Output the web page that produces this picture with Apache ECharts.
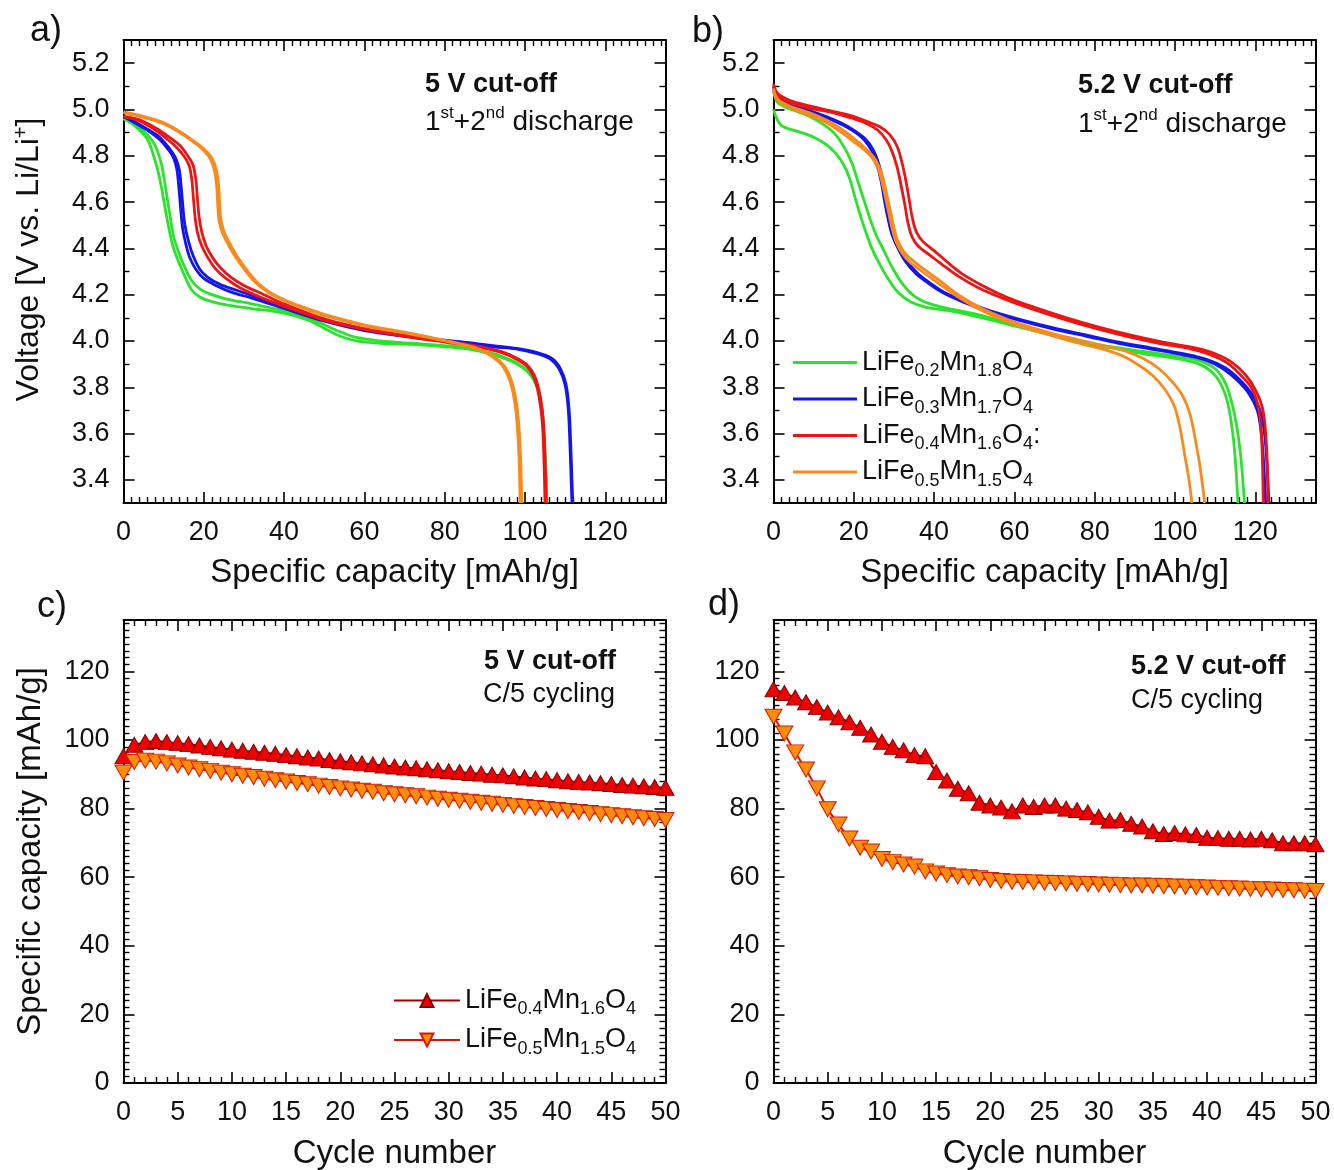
<!DOCTYPE html>
<html><head><meta charset="utf-8">
<script src="https://cdn.jsdelivr.net/npm/echarts@6/dist/echarts.min.js"></script>
<style>html,body{margin:0;padding:0;background:#fff}#c{width:1334px;height:1170px}</style>
</head><body><div id="c"></div>
<script>
const FONT = '"Liberation Sans", Arial, Helvetica, sans-serif';

// ---------- Panel a: 5 V cut-off, 1st + 2nd discharge [capacity mAh/g, voltage V] ----------
const a_fe02_1 = [[0,4.96],[2,4.94],[4,4.91],[6,4.87],[7.5,4.80],[8.5,4.74],[9.5,4.66],[10.5,4.56],[11.5,4.47],[12.5,4.40],[14,4.33],[15.5,4.27],[17,4.22],[19,4.19],[22,4.17],[26,4.155],[32,4.14],[40,4.12],[46,4.09],[50,4.055],[54,4.02],[58,4.0],[64,3.99],[72,3.985],[80,3.975],[86,3.965],[90,3.95],[94,3.93],[98,3.90],[101,3.86],[103,3.80],[104.2,3.70],[104.8,3.55],[105.2,3.40],[105.4,3.3]];
const a_fe02_2 = [[0,4.96],[2,4.945],[4,4.92],[6,4.89],[8,4.84],[9.5,4.76],[10.5,4.66],[11.5,4.55],[12.5,4.45],[14,4.37],[15.5,4.31],[17,4.26],[19,4.225],[22,4.2],[26,4.18],[32,4.16],[40,4.13],[46,4.10],[50,4.07],[54,4.04],[58,4.015],[64,4.0],[72,3.99],[80,3.98],[86,3.97],[90,3.955],[94,3.935],[98,3.905],[101,3.865],[103,3.81],[104.3,3.70],[104.9,3.55],[105.3,3.40],[105.5,3.3]];
const a_fe03_1 = [[0,4.97],[3,4.94],[6,4.91],[9,4.87],[11,4.83],[12.5,4.79],[13.3,4.74],[13.8,4.66],[14.2,4.58],[14.7,4.49],[15.5,4.42],[16.5,4.36],[18,4.31],[20,4.27],[23,4.24],[27,4.21],[32,4.185],[40,4.14],[50,4.085],[60,4.045],[70,4.02],[80,4.0],[86,3.99],[92,3.975],[98,3.965],[103,3.945],[106.5,3.92],[108.5,3.88],[110,3.81],[110.8,3.70],[111.2,3.55],[111.5,3.40],[111.7,3.3]];
const a_fe03_2 = [[0,4.97],[3,4.945],[6,4.915],[9,4.88],[11.5,4.83],[13,4.79],[13.9,4.74],[14.4,4.66],[14.8,4.58],[15.3,4.50],[16.2,4.43],[17.3,4.37],[19,4.31],[21,4.275],[24,4.245],[28,4.22],[33,4.19],[40,4.15],[50,4.09],[60,4.05],[70,4.022],[80,4.003],[86,3.993],[92,3.98],[98,3.968],[103,3.95],[106.7,3.925],[108.7,3.885],[110.2,3.815],[111,3.70],[111.4,3.55],[111.7,3.40],[111.9,3.3]];
const a_fe04_1 = [[0,4.97],[4,4.95],[8,4.91],[11,4.87],[13,4.84],[15,4.80],[16.3,4.76],[17,4.70],[17.4,4.62],[17.8,4.54],[18.4,4.47],[19.5,4.41],[21,4.36],[23,4.31],[25.5,4.27],[29,4.23],[34,4.19],[40,4.15],[50,4.09],[60,4.05],[70,4.02],[80,3.995],[88,3.975],[94,3.95],[98,3.92],[100.5,3.89],[102.3,3.84],[103.5,3.76],[104.3,3.65],[104.7,3.50],[105,3.3]];
const a_fe04_2 = [[0,4.97],[4,4.955],[8,4.92],[11,4.885],[14,4.845],[16,4.80],[17.3,4.76],[18,4.70],[18.4,4.62],[18.8,4.54],[19.5,4.47],[20.6,4.41],[22.2,4.36],[24.2,4.315],[26.8,4.275],[30,4.24],[35,4.20],[40,4.16],[50,4.095],[60,4.053],[70,4.025],[80,4.0],[88,3.978],[94,3.955],[98,3.925],[100.7,3.893],[102.5,3.845],[103.8,3.76],[104.6,3.65],[105,3.50],[105.3,3.3]];
const a_fe05_1 = [[0,4.985],[4,4.97],[8,4.95],[11,4.93],[14,4.90],[17,4.865],[19.5,4.83],[21.5,4.79],[22.6,4.74],[23.2,4.67],[23.5,4.58],[23.8,4.52],[24.6,4.47],[26,4.42],[28,4.36],[30.5,4.30],[33,4.25],[36,4.21],[40,4.175],[45,4.14],[50,4.11],[60,4.065],[70,4.035],[80,4.0],[85,3.98],[89,3.96],[92,3.93],[94.5,3.89],[96.2,3.83],[97.3,3.75],[98,3.65],[98.5,3.50],[98.8,3.3]];
const a_fe05_2 = [[0,4.99],[4,4.975],[8,4.955],[11,4.935],[14,4.905],[17,4.87],[20,4.83],[22,4.79],[23.1,4.74],[23.7,4.67],[24,4.58],[24.3,4.52],[25.1,4.47],[26.5,4.42],[28.5,4.36],[31,4.30],[33.5,4.25],[36.5,4.21],[40.5,4.175],[45,4.145],[50,4.115],[60,4.07],[70,4.038],[80,4.003],[85,3.983],[89,3.963],[92.3,3.933],[94.9,3.89],[96.6,3.83],[97.7,3.75],[98.4,3.65],[98.9,3.50],[99.2,3.3]];

// ---------- Panel b: 5.2 V cut-off ----------
const b_fe02_1 = [[0,5.0],[0.8,4.96],[2,4.93],[4,4.915],[7,4.90],[10,4.88],[13,4.85],[15.5,4.81],[17.5,4.76],[19,4.70],[20.3,4.62],[21.5,4.55],[23,4.47],[24.5,4.40],[26.5,4.33],[28.5,4.27],[31,4.21],[34,4.17],[38,4.145],[44,4.13],[52,4.10],[60,4.065],[68,4.03],[76,3.995],[84,3.97],[92,3.945],[100,3.925],[106,3.90],[109.5,3.86],[111.8,3.80],[113.3,3.72],[114.4,3.60],[115.1,3.47],[115.7,3.3]];
const b_fe02_2 = [[0,5.08],[1,5.03],[3,5.01],[6,4.99],[9,4.97],[12,4.94],[15,4.90],[17.5,4.84],[19.5,4.77],[21,4.69],[22.5,4.61],[24,4.53],[25.5,4.46],[27.5,4.39],[29.5,4.32],[32,4.25],[35,4.195],[39,4.16],[45,4.135],[52,4.11],[60,4.07],[68,4.035],[76,4.0],[84,3.975],[92,3.955],[100,3.935],[106,3.915],[110,3.88],[112.5,3.82],[114.2,3.73],[115.5,3.62],[116.5,3.48],[117.3,3.3]];
const b_fe03_1 = [[0,5.09],[1,5.05],[4,5.02],[9,4.99],[13,4.965],[17,4.935],[20,4.905],[22.5,4.87],[24.5,4.82],[25.8,4.76],[26.8,4.69],[27.6,4.61],[28.5,4.53],[29.5,4.46],[31,4.40],[33,4.34],[35.5,4.29],[38.5,4.25],[42,4.21],[47,4.17],[54,4.125],[62,4.085],[70,4.05],[78,4.02],[86,3.99],[94,3.965],[102,3.94],[108,3.915],[112,3.88],[115.5,3.83],[118.5,3.77],[120.5,3.70],[121.5,3.60],[122.1,3.47],[122.6,3.3]];
const b_fe03_2 = [[0,5.10],[1,5.055],[4,5.025],[9,4.995],[13,4.97],[17,4.94],[20,4.91],[23,4.87],[25,4.82],[26.3,4.76],[27.3,4.69],[28.1,4.61],[29,4.53],[30,4.46],[31.5,4.40],[33.5,4.34],[36,4.29],[39,4.25],[42.5,4.21],[47.5,4.172],[54,4.13],[62,4.09],[70,4.055],[78,4.025],[86,3.995],[94,3.97],[102,3.945],[108,3.92],[112.5,3.885],[116,3.835],[119,3.775],[121.2,3.70],[122.3,3.60],[122.9,3.47],[123.4,3.3]];
const b_fe04_1 = [[0,5.10],[1,5.06],[4,5.03],[9,5.005],[14,4.99],[19,4.965],[23,4.94],[26,4.91],[28,4.87],[29.5,4.82],[30.8,4.75],[31.8,4.67],[32.7,4.59],[33.5,4.51],[34.5,4.45],[36,4.41],[39,4.37],[42,4.33],[46,4.28],[51,4.23],[57,4.185],[64,4.14],[72,4.095],[80,4.055],[88,4.02],[96,3.99],[104,3.965],[109,3.94],[113,3.905],[116.5,3.85],[119.3,3.79],[120.8,3.71],[121.5,3.60],[121.8,3.47],[122,3.3]];
const b_fe04_2 = [[0,5.11],[1,5.07],[4,5.04],[9,5.015],[14,4.995],[19,4.975],[23,4.95],[26.5,4.925],[29,4.89],[30.8,4.84],[32,4.77],[33,4.69],[33.8,4.61],[34.6,4.53],[35.6,4.47],[37.2,4.43],[40,4.39],[43,4.345],[47,4.29],[52,4.24],[58,4.19],[65,4.145],[73,4.10],[81,4.06],[89,4.025],[97,3.995],[105,3.97],[110,3.945],[114,3.91],[117.5,3.855],[120,3.79],[121.8,3.71],[122.6,3.60],[123,3.47],[123.2,3.3]];
const b_fe05_1 = [[0,5.08],[1,5.04],[4,5.01],[9,4.975],[13,4.945],[17,4.90],[20,4.86],[23,4.82],[25,4.78],[26.5,4.72],[27.5,4.65],[28.5,4.57],[29.5,4.49],[30.5,4.43],[32,4.38],[34,4.34],[37,4.30],[41,4.25],[46,4.19],[52,4.13],[58,4.085],[64,4.05],[70,4.02],[76,3.99],[82,3.965],[87,3.935],[91,3.895],[94.5,3.85],[97.5,3.79],[99.8,3.72],[101.2,3.63],[102.5,3.50],[103.5,3.40],[104.2,3.3]];
const b_fe05_2 = [[0,5.09],[1,5.045],[4,5.015],[9,4.985],[13,4.955],[17,4.915],[20,4.875],[23,4.83],[25.5,4.78],[27,4.72],[28,4.65],[29,4.57],[30,4.49],[31,4.43],[32.5,4.385],[34.5,4.35],[37.5,4.31],[41.5,4.26],[46,4.20],[52,4.14],[58,4.095],[64,4.06],[70,4.03],[76,4.005],[82,3.98],[87,3.96],[92,3.925],[96,3.88],[99.5,3.82],[102,3.76],[103.8,3.68],[105,3.58],[106.3,3.45],[107.4,3.3]];

// ---------- Panels c, d: C/5 cycling, specific capacity per cycle ----------
const cycles = Array.from({length: 51}, (_, i) => i);
const c_fe04 = [95.3,98.6,99.4,99.7,99.4,99.1,98.8,98.4,98.0,97.6,97.2,96.9,96.6,96.3,96.0,95.6,95.3,94.9,94.6,94.2,93.8,93.5,93.2,92.9,92.6,92.3,92.0,91.8,91.5,91.2,90.9,90.7,90.4,90.2,89.9,89.7,89.4,89.1,88.8,88.6,88.3,88.0,87.8,87.6,87.4,87.2,86.9,86.7,86.5,86.3,86.1];
const c_fe05 = [90.5,93.6,94.0,93.7,93.2,92.6,92.0,91.5,91.0,90.5,90.0,89.6,89.2,88.7,88.3,87.9,87.5,87.1,86.7,86.3,85.9,85.6,85.2,84.9,84.5,84.2,83.9,83.6,83.2,82.9,82.6,82.3,82.0,81.7,81.4,81.1,80.8,80.5,80.2,79.9,79.6,79.3,79.0,78.7,78.4,78.1,77.8,77.5,77.2,77.0,76.7];
const d_fe04 = [114.8,113.7,112.4,111.0,109.6,108.0,106.6,105.2,103.6,101.6,99.5,98.0,97.0,95.6,95.3,90.7,88.2,85.8,84.5,81.7,80.9,80.3,79.2,80.9,80.5,80.9,80.9,80.0,79.6,78.9,77.6,76.5,76.7,75.6,74.8,73.4,72.6,72.9,72.5,72.3,71.5,71.4,71.2,71.2,71.0,71.2,70.8,69.9,69.9,69.9,69.6];
const d_fe05 = [106.8,101.9,96.4,91.4,85.9,79.8,75.4,71.3,68.6,67.5,65.3,64.4,63.7,63.1,61.7,61.1,60.6,60.2,60.0,59.7,59.2,58.9,58.7,58.6,58.5,58.4,58.3,58.2,58.1,58.0,57.9,57.8,57.7,57.6,57.6,57.5,57.4,57.3,57.2,57.1,57.0,56.9,56.8,56.7,56.6,56.5,56.4,56.3,56.2,56.1,56.0];

// ---------- Labels ----------
const compNames = ['Fe0.2', 'Fe0.3', 'Fe0.4', 'Fe0.5'];
const compLabels = {
  'Fe0.2': '{n|LiFe}{s|0.2}{n|Mn}{s|1.8}{n|O}{s|4}',
  'Fe0.3': '{n|LiFe}{s|0.3}{n|Mn}{s|1.7}{n|O}{s|4}',
  'Fe0.4': '{n|LiFe}{s|0.4}{n|Mn}{s|1.6}{n|O}{s|4}{n|:}',
  'Fe0.5': '{n|LiFe}{s|0.5}{n|Mn}{s|1.5}{n|O}{s|4}',
  'cyc Fe0.4': '{n|LiFe}{s|0.4}{n|Mn}{s|1.6}{n|O}{s|4}',
  'cyc Fe0.5': '{n|LiFe}{s|0.5}{n|Mn}{s|1.5}{n|O}{s|4}'
};
const lineColors = ['#2be32b', '#1414ee', '#ee1414', '#fa8a1e'];
const voltTicks = [3.4, 3.6, 3.8, 4.0, 4.2, 4.4, 4.6, 4.8, 5.0, 5.2];

const grids = [
  {left: 123.5, top: 40, width: 542, height: 463},
  {left: 773.5, top: 40, width: 542, height: 463},
  {left: 123.5, top: 620, width: 542, height: 463},
  {left: 773.5, top: 620, width: 542, height: 463}
];

const black = '#111';
function axisCommon(showLabel, minorSplit, fmt, margin) {
  return {
    axisLine: {show: true, onZero: false, lineStyle: {color: '#000', width: 2}},
    axisTick: {show: true, inside: true, length: 11, lineStyle: {color: '#000', width: 1.6}},
    minorTick: {show: true, splitNumber: minorSplit, length: 6, lineStyle: {color: '#000', width: 1.4}},
    splitLine: {show: false},
    minorSplitLine: {show: false},
    axisLabel: {show: showLabel, fontSize: 27, fontFamily: FONT, color: black, margin: margin,
                showMinLabel: true, showMaxLabel: false, formatter: fmt}
  };
}
const capName = 'Specific capacity [mAh/g]';
const nameStyle = {fontSize: 33, fontFamily: FONT, color: black};

const xAxes = [];
const yAxes = [];
// voltage panels a,b
[0, 1].forEach(g => {
  ['bottom', 'top'].forEach(pos => {
    xAxes.push(Object.assign({type: 'value', gridIndex: g, position: pos, min: 0, max: 135, interval: 20,
      name: pos === 'bottom' ? capName : '', nameLocation: 'middle', nameGap: 53, nameTextStyle: nameStyle},
      axisCommon(pos === 'bottom', 10, v => String(v), 16)));
  });
  ['left', 'right'].forEach(pos => {
    const ax = Object.assign({type: 'value', gridIndex: g, position: pos, min: 3.3, max: 5.3, splitNumber: 10},
      axisCommon(pos === 'left', 2, v => voltTicks.some(t => Math.abs(t - v) < 1e-6) ? v.toFixed(1) : '', 14));
    ax.axisLabel.showMinLabel = false;
    if (g === 0 && pos === 'left') {
      ax.name = '{m|Voltage [V vs. Li/Li}{p|+}{m|]}';
      ax.nameLocation = 'middle';
      ax.nameGap = 76;
      ax.nameTextStyle = {fontSize: 32, fontFamily: FONT, color: black, padding: [0, 0, 0, 24],
        rich: {m: {fontSize: 32, fontFamily: FONT, color: black},
               p: {fontSize: 20, fontFamily: FONT, color: black, padding: [0, 0, 16, 0]}}};
    }
    yAxes.push(ax);
  });
});
// cycling panels c,d
[2, 3].forEach(g => {
  ['bottom', 'top'].forEach(pos => {
    xAxes.push(Object.assign({type: 'value', gridIndex: g, position: pos, min: 0, max: 50, interval: 5,
      name: pos === 'bottom' ? 'Cycle number' : '', nameLocation: 'middle', nameGap: 54, nameTextStyle: nameStyle},
      axisCommon(pos === 'bottom', 5, v => String(v), 16)));
    xAxes[xAxes.length - 1].axisLabel.showMaxLabel = true;
  });
  ['left', 'right'].forEach(pos => {
    const ax = Object.assign({type: 'value', gridIndex: g, position: pos, min: 0, max: 135, interval: 20},
      axisCommon(pos === 'left', 10, v => String(v), 14));
    if (g === 2 && pos === 'left') {
      ax.name = capName;
      ax.nameLocation = 'middle';
      ax.nameGap = 76;
      ax.nameTextStyle = nameStyle;
    }
    yAxes.push(ax);
  });
});

const series = [];
const voltData = [
  [[a_fe02_1, a_fe02_2], [a_fe03_1, a_fe03_2], [a_fe04_1, a_fe04_2], [a_fe05_1, a_fe05_2]],
  [[b_fe02_1, b_fe02_2], [b_fe03_1, b_fe03_2], [b_fe04_1, b_fe04_2], [b_fe05_1, b_fe05_2]]
];
voltData.forEach((panel, p) => {
  panel.forEach((pair, k) => {
    pair.forEach(curve => {
      series.push({
        name: compNames[k], type: 'line', xAxisIndex: p * 2, yAxisIndex: p * 2,
        data: curve, showSymbol: false, symbol: 'none', smooth: 0.35,
        lineStyle: {color: lineColors[k], width: 2.8}, itemStyle: {color: lineColors[k]},
        emphasis: {disabled: true}, animation: false
      });
    });
  });
});
const cycSeries = [
  {g: 2, name: 'cyc Fe0.4', vals: c_fe04, up: true},
  {g: 2, name: 'cyc Fe0.5', vals: c_fe05, up: false},
  {g: 3, name: 'cyc Fe0.4', vals: d_fe04, up: true},
  {g: 3, name: 'cyc Fe0.5', vals: d_fe05, up: false}
];
cycSeries.forEach(s => {
  series.push({
    name: s.name, type: 'line', xAxisIndex: s.g * 2, yAxisIndex: s.g * 2,
    data: cycles.map((c, i) => [c, s.vals[i]]),
    symbol: 'triangle', symbolSize: [17, 15], symbolRotate: s.up ? 0 : 180, showSymbol: true,
    lineStyle: {color: s.up ? '#a00000' : '#dd1500', width: 2},
    itemStyle: {color: s.up ? '#ee0000' : '#ff8c0a', borderColor: s.up ? '#8a0000' : '#d81800', borderWidth: 1},
    emphasis: {disabled: true}, animation: false
  });
});

const legRich = {
  n: {fontSize: 27, fontFamily: FONT, color: black},
  s: {fontSize: 18, fontFamily: FONT, color: black, padding: [18, 0, 0, 0]}
};

const richMain = (size, extra) => Object.assign({fontSize: size, fontFamily: FONT, fill: black}, extra || {});
function annot(x, y, txt, bold) {
  return {type: 'text', x: x, y: y, style: {text: txt, fontSize: 27, fontWeight: bold ? 'bold' : 'normal',
    fontFamily: FONT, fill: black, verticalAlign: 'middle', align: 'left'}};
}
function discharge(x, y) {
  return {type: 'text', x: x, y: y, style: {
    text: '{m|1}{p|st}{m|+2}{p|nd}{m| discharge}', verticalAlign: 'middle', align: 'left',
    rich: {m: richMain(28), p: richMain(17, {padding: [0, 0, 18, 0]})}}};
}

const option = {
  backgroundColor: '#fff',
  animation: false,
  grid: grids.map(g => Object.assign({containLabel: false, outerBoundsMode: 'none'}, g)),
  xAxis: xAxes,
  yAxis: yAxes,
  series: series,
  legend: [
    {data: compNames, orient: 'vertical', left: 788, top: 344, icon: 'rect', itemWidth: 64, itemHeight: 3,
     itemGap: 5, selectedMode: false, formatter: n => compLabels[n], textStyle: {rich: legRich}},
    {data: ['cyc Fe0.4', 'cyc Fe0.5'], orient: 'vertical', left: 388, top: 982, itemWidth: 66, itemHeight: 16,
     itemGap: 8, selectedMode: false, formatter: n => compLabels[n], textStyle: {rich: legRich}}
  ],
  graphic: [
    {type: 'text', x: 30, y: 31, style: {text: 'a)', fontSize: 36, fontFamily: FONT, fill: black, verticalAlign: 'middle'}},
    {type: 'text', x: 692, y: 32, style: {text: 'b)', fontSize: 36, fontFamily: FONT, fill: black, verticalAlign: 'middle'}},
    {type: 'text', x: 37, y: 607, style: {text: 'c)', fontSize: 36, fontFamily: FONT, fill: black, verticalAlign: 'middle'}},
    {type: 'text', x: 708, y: 605, style: {text: 'd)', fontSize: 36, fontFamily: FONT, fill: black, verticalAlign: 'middle'}},
    annot(425, 85, '5 V cut-off', true),
    discharge(425, 122),
    annot(1078, 86, '5.2 V cut-off', true),
    discharge(1078, 124),
    annot(484, 662, '5 V cut-off', true),
    annot(483, 695, 'C/5 cycling', false),
    annot(1131, 667, '5.2 V cut-off', true),
    annot(1131, 701, 'C/5 cycling', false)
  ]
};
const chart = echarts.init(document.getElementById('c'), null, {renderer: 'canvas', width: 1334, height: 1170});
chart.setOption(option);
</script></body></html>
